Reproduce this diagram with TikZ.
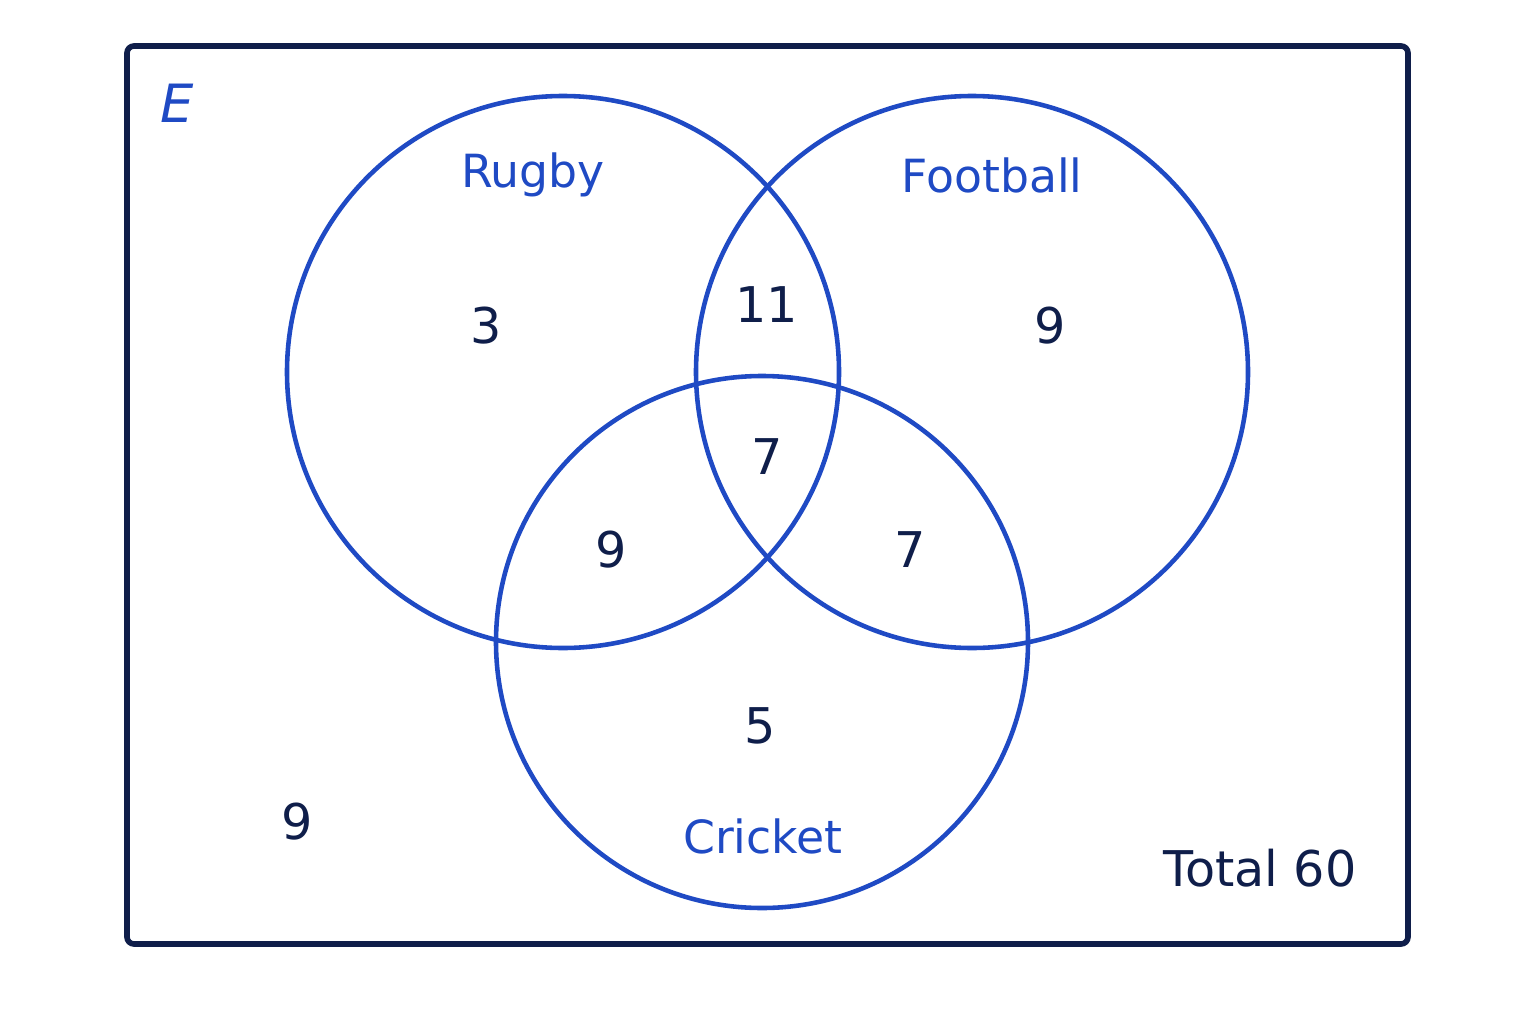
\documentclass[tikz,border=0pt]{standalone}
\usepackage{fontspec}
\setmainfont{DejaVu Sans}
\usepackage{tikz}
\definecolor{vennblue}{HTML}{1F4AC4}
\definecolor{venndark}{HTML}{0F1E4A}
\tikzset{
  setcircle/.style={draw=vennblue, line width=1.3pt},
  setlabel/.style={text=vennblue, font=\fontsize{13}{15}\selectfont},
  count/.style={text=venndark, font=\fontsize{14}{16}\selectfont},
}
\begin{document}
\begin{tikzpicture}[x=0.01cm, y=-0.01cm]
  \useasboundingbox (0,0) rectangle (1536,1024);
  % universal set
  \draw[venndark, line width=1.6pt, rounded corners=2pt] (127,46) rectangle (1408,944);
  \node[text=vennblue, font=\fontsize{15}{17}\selectfont\itshape] (E) at (177,103) {E};

  % sets
  \draw[setcircle] (563,372) circle (276);
  \draw[setcircle] (972,372) circle (276);
  \draw[setcircle] (762,642) circle (266);

  \node[setlabel] (rugby) at (533,175) {Rugby};
  \node[setlabel] (football) at (992,175) {Football};
  \node[setlabel] (cricket) at (763,836) {Cricket};

  % region counts
  \node[count] (r) at (486,326) {3};
  \node[count] (rf) at (767,305) {11};
  \node[count] (f) at (1050,326) {9};
  \node[count] (rfc) at (767,457) {7};
  \node[count] (rc) at (611,550) {9};
  \node[count] (fc) at (910,550) {7};
  \node[count] (c) at (760,726) {5};
  \node[count] (none) at (297,822) {9};
  \node[count] (total) at (1260,868) {Total 60};
\end{tikzpicture}
\end{document}
